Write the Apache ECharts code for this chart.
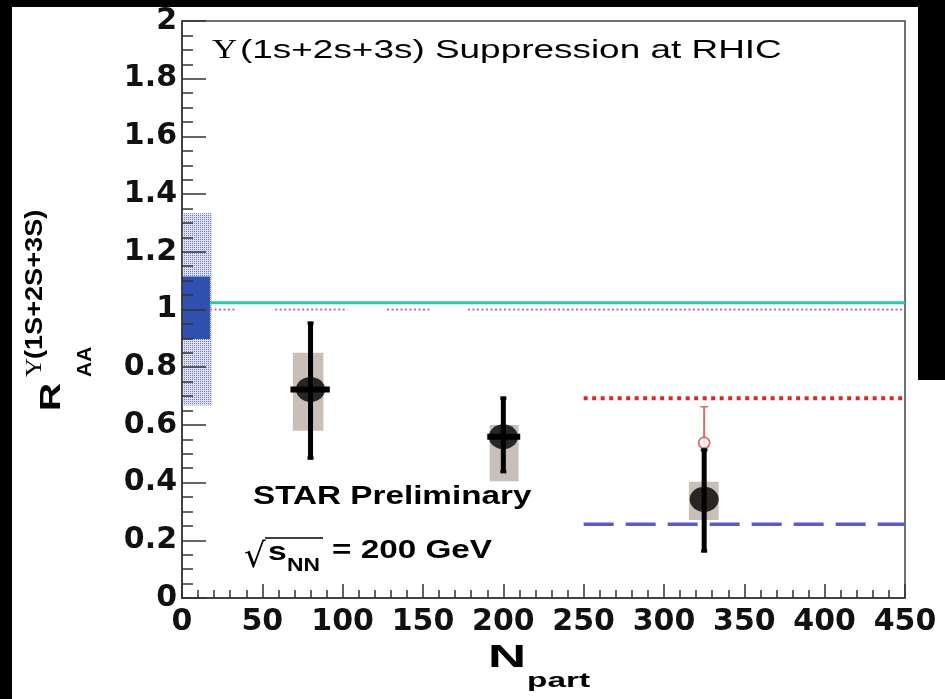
<!DOCTYPE html>
<html><head><meta charset="utf-8">
<script src="https://cdn.jsdelivr.net/npm/echarts@6/dist/echarts.min.js"></script>
<style>
html,body{margin:0;padding:0;background:#000;width:945px;height:699px;overflow:hidden}
#chart{position:absolute;left:12px;top:7px;width:933px;height:692px;background:#fff}
#rstrip{position:absolute;left:918px;top:0;width:27px;height:380px;background:#000;z-index:5}
</style>
</head><body><div id="chart"></div><div id="rstrip"></div>
<script>
// ---------------- data ----------------
const npart      = [80, 200, 325];
const raa        = [0.723, 0.559, 0.342];
const statLow    = [0.485, 0.438, 0.163];
const statHigh   = [0.953, 0.693, 0.513];
const nErrLow    = [67.5, 190, 325];
const nErrHigh   = [92, 210.5, 325];
const sysNLow    = [69, 191.5, 315.5];
const sysNHigh   = [88, 209.5, 334];
const sysLow     = [0.58, 0.405, 0.27];
const sysHigh    = [0.85, 0.60, 0.403];

const redN    = [325];
const redRaa  = [0.538];
const redLow  = [0.513];
const redHigh = [0.663];

const bandGlobalN = [0, 18.7];
const bandGlobal  = [0.667, 1.334];
const bandStatN   = [0, 17.4];
const bandStat    = [0.898, 1.114];

const cyanLineN = [17.4, 450];
const cyanLineY = 1.023;
const unitySegments = [[17.4, 33], [58, 103], [127.6, 154], [178, 450]];
const unityY = 1.0;
const redLineN = [250, 450];
const redLineY = 0.692;
const blueLineN = [250, 450];
const blueLineY = 0.256;

const xTickLabels = ['0','50','100','150','200','250','300','350','400','450'];
const yTickLabels = ['0','0.2','0.4','0.6','0.8','1','1.2','1.4','1.6','1.8','2'];

// ---------------- chart ----------------
const chart = echarts.init(document.getElementById('chart'), null, {renderer: 'canvas'});

// dotted pattern for global band
const pc = document.createElement('canvas');
pc.width = 2; pc.height = 2;
const pg = pc.getContext('2d');
pg.fillStyle = '#dfe2f3'; pg.fillRect(0, 0, 2, 2);
pg.fillStyle = '#6b76c4'; pg.fillRect(0, 0, 1, 1);

function boxRender(fill) {
  return function (params, api) {
    const p1 = api.coord([api.value(0), api.value(3)]);
    const p2 = api.coord([api.value(1), api.value(2)]);
    return {type: 'rect', shape: {x: p1[0], y: p1[1], width: p2[0] - p1[0], height: p2[1] - p1[1]},
            style: {fill: fill}};
  };
}
function vbarRender(color, width, cap) {
  return function (params, api) {
    const x = api.value(0);
    const lo = api.coord([x, api.value(1)]);
    const hi = api.coord([x, api.value(2)]);
    return {type: 'group', children: [
      {type: 'line', shape: {x1: lo[0], y1: lo[1], x2: hi[0], y2: hi[1]}, style: {stroke: color, lineWidth: width}},
      {type: 'line', shape: {x1: hi[0] - cap, y1: hi[1], x2: hi[0] + cap, y2: hi[1]}, style: {stroke: color, lineWidth: width * 0.7}},
      {type: 'line', shape: {x1: lo[0] - cap, y1: lo[1], x2: lo[0] + cap, y2: lo[1]}, style: {stroke: color, lineWidth: width * 0.7}}
    ]};
  };
}
function hbarRender(color, width) {
  return function (params, api) {
    const y = api.value(0);
    const a = api.coord([api.value(1), y]);
    const b = api.coord([api.value(2), y]);
    return {type: 'line', shape: {x1: a[0], y1: a[1], x2: b[0], y2: b[1]}, style: {stroke: color, lineWidth: width}};
  };
}
function hline(n, y, color, width, type, z) {
  return {type: 'line', data: [[n[0], y], [n[1], y]], symbol: 'none', silent: true, z: z,
          lineStyle: {color: color, width: width, type: type, cap: 'butt'}};
}

const series = [];
series.push({type: 'custom', z: 1, silent: true, renderItem: boxRender({image: pc, repeat: 'repeat'}),
  encode: {x: [0, 1], y: [2, 3]}, data: [[bandGlobalN[0], bandGlobalN[1], bandGlobal[0], bandGlobal[1]]]});
series.push({type: 'custom', z: 2, silent: true, renderItem: boxRender('#3050b0'),
  encode: {x: [0, 1], y: [2, 3]}, data: [[bandStatN[0], bandStatN[1], bandStat[0], bandStat[1]]]});
series.push({type: 'custom', z: 2, silent: true, renderItem: boxRender('#c8bfb6'),
  encode: {x: [0, 1], y: [2, 3]}, data: npart.map((n, i) => [sysNLow[i], sysNHigh[i], sysLow[i], sysHigh[i]])});
series.push(hline(cyanLineN, cyanLineY, '#1fd0ae', 3, 'solid', 3));
unitySegments.forEach(s => series.push(hline(s, unityY, '#c064cc', 2, [2, 2.5], 3)));
series.push(hline(redLineN, redLineY, '#e02424', 4, [4, 4.5], 3));
series.push(hline(blueLineN, blueLineY, '#5b5bc8', 3.5, [30, 12], 3));
series.push({type: 'custom', z: 4, silent: true, renderItem: vbarRender('#d86a6a', 2, 4),
  encode: {x: 0, y: [1, 2]}, data: redN.map((n, i) => [n, redLow[i], redHigh[i]])});
series.push({type: 'scatter', z: 5, silent: true, symbol: 'circle', symbolSize: 11,
  itemStyle: {color: '#fff', borderColor: '#e05050', borderWidth: 2},
  data: redN.map((n, i) => [n, redRaa[i]])});
series.push({type: 'custom', z: 6, silent: true, renderItem: vbarRender('#000', 5, 3),
  encode: {x: 0, y: [1, 2]}, data: npart.map((n, i) => [n, statLow[i], statHigh[i]])});
series.push({type: 'custom', z: 6, silent: true, renderItem: hbarRender('#000', 6),
  encode: {y: 0, x: [1, 2]}, data: npart.map((n, i) => [raa[i], nErrLow[i], nErrHigh[i]])});
series.push({type: 'scatter', z: 7, silent: true, symbol: 'circle', symbolSize: [29, 25],
  itemStyle: {color: '#000'}, data: npart.map((n, i) => [n, raa[i]])});

function txt(x, y, text, o) {
  return {type: 'text', x: x, y: y, silent: true, rotation: o.rot || 0, scaleX: o.sx || 1, z: 20,
    style: {text: text, fill: o.color || '#000', fontSize: o.size, fontWeight: o.weight || 'normal',
      fontFamily: o.family || 'Liberation Sans', textAlign: 'left', textVerticalAlign: 'middle',
      align: 'left', verticalAlign: 'middle'}};
}

const graphics = [
  // title
  txt(200, 43.5, 'Υ', {size: 28, family: 'Liberation Serif', sx: 1.25}),
  txt(228, 43.5, '(1s+2s+3s) Suppression at RHIC', {size: 26, sx: 1.42}),
  // STAR Preliminary
  txt(241, 490, 'STAR Preliminary', {size: 25, weight: 'bold', sx: 1.33}),
  // sqrt(s_NN) = 200 GeV
  txt(232, 551, '√', {size: 34, family: 'DejaVu Sans'}),
  txt(256, 546, 's', {size: 26, weight: 'bold', sx: 1.3}),
  txt(275, 559.5, 'NN', {size: 18, weight: 'bold', sx: 1.27}),
  txt(320, 544, '= 200 GeV', {size: 26, weight: 'bold', sx: 1.28}),
  {type: 'line', silent: true, z: 20, shape: {x1: 253, y1: 531, x2: 311, y2: 531}, style: {stroke: '#000', lineWidth: 1.5}},
  // y-axis title (rotated)
  txt(40, 404, 'R', {size: 30, weight: 'bold', sx: 1.3, rot: Math.PI / 2}),
  txt(73, 370, 'AA', {size: 21, weight: 'bold', sx: 1.0, rot: Math.PI / 2}),
  txt(23, 370, 'Υ', {size: 24, family: 'Liberation Serif', sx: 1.1, rot: Math.PI / 2}),
  txt(23, 352, '(1S+2S+3S)', {size: 24, weight: 'bold', sx: 1.13, rot: Math.PI / 2}),
  // x-axis title
  txt(476, 651.5, 'N', {size: 32, weight: 'bold', sx: 1.65}),
  txt(515, 674, 'part', {size: 20, weight: 'bold', sx: 1.67})
];

const axisLineStyle = {color: '#333', width: 1.5};
const option = {
  animation: false,
  backgroundColor: '#fff',
  grid: {left: 170, top: 14, right: 40, bottom: 101, show: true, borderColor: '#444', borderWidth: 1.5,
         backgroundColor: 'transparent', containLabel: false, outerBoundsMode: 'none'},
  xAxis: {type: 'value', min: 0, max: 450, interval: 50, z: 10,
    axisLine: {show: true, onZero: false, lineStyle: axisLineStyle},
    axisTick: {show: true, inside: true, length: 14, lineStyle: axisLineStyle},
    minorTick: {show: true, splitNumber: 5, length: 8, lineStyle: axisLineStyle},
    splitLine: {show: false}, minorSplitLine: {show: false},
    axisLabel: {show: true, margin: 9, color: '#111', fontFamily: 'DejaVu Sans', fontWeight: 'bold', fontSize: 30,
      showMinLabel: true, showMaxLabel: true,
      formatter: v => xTickLabels[Math.round(v / 50)]}
  },
  yAxis: {type: 'value', min: 0, max: 2, interval: 0.2, z: 10,
    axisLine: {show: true, onZero: false, lineStyle: axisLineStyle},
    axisTick: {show: true, inside: true, length: 24, lineStyle: axisLineStyle},
    minorTick: {show: true, splitNumber: 4, length: 11, lineStyle: axisLineStyle},
    splitLine: {show: false}, minorSplitLine: {show: false},
    axisLabel: {show: true, margin: 5, color: '#111', fontFamily: 'DejaVu Sans', fontWeight: 'bold', fontSize: 30,
      showMinLabel: true, showMaxLabel: true,
      formatter: v => yTickLabels[Math.round(v / 0.2)]}
  },
  series: series,
  graphic: {elements: graphics}
};
chart.setOption(option);
</script>
</body></html>
